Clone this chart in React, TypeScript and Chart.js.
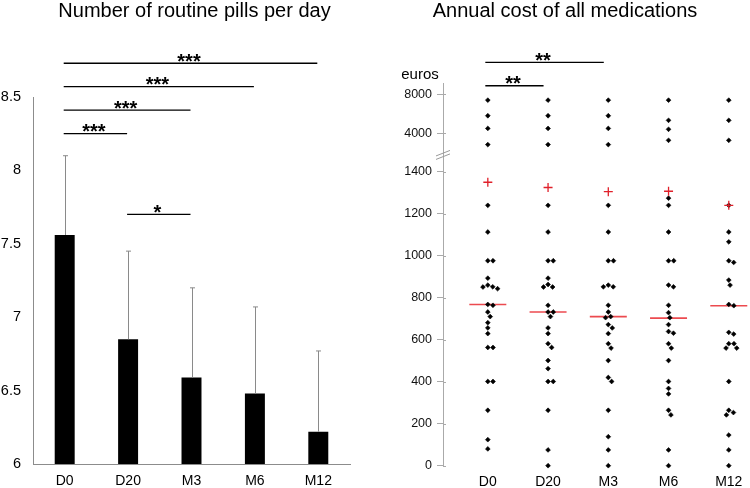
import React, { useEffect, useRef } from "react";
import { Chart, registerables, LinearScale } from "chart.js";

Chart.register(...registerables);

// ---------------- data ----------------
const CATEGORIES = ["D0", "D20", "M3", "M6", "M12"];

// left panel: number of routine pills per day
const PILLS_TITLE = "Number of routine pills per day";
const PILLS_MEAN = [7.56, 6.85, 6.59, 6.48, 6.22];
const PILLS_SD = [0.54, 0.6, 0.61, 0.59, 0.55];
const PILLS_TICKS = [6, 6.5, 7, 7.5, 8, 8.5];
const PILL_BRACKET_FROM = [0, 0, 0, 0, 1];
const PILL_BRACKET_TO = [1, 2, 3, 4, 2];
const PILL_BRACKET_Y = [8.25, 8.41, 8.57, 8.73, 7.7];
const PILL_BRACKET_STARS = ["***", "***", "***", "***", "*"];

// right panel: annual cost of all medications (euros)
const COST_TITLE = "Annual cost of all medications";
const COST_UNIT = "euros";
const COST_D0 = [7400, 5800, 4500, 2840, 1240, 1113, 976, 976, 893, 860, 852, 851, 843, 768, 764, 732, 710, 681, 656, 629, 563, 563, 401, 401, 264, 124, 80];
const COST_D20 = [7400, 5800, 4500, 2840, 1240, 1113, 976, 976, 893, 863, 851, 851, 764, 732, 732, 710, 656, 629, 581, 563, 501, 462, 401, 401, 264, 75, 0];
const COST_M3 = [7400, 5800, 4500, 2840, 1240, 1113, 976, 976, 860, 852, 852, 764, 732, 710, 705, 672, 656, 629, 581, 560, 501, 420, 401, 264, 138, 75, 0];
const COST_M6 = [7400, 5330, 4410, 3280, 1274, 1240, 1113, 976, 976, 860, 852, 764, 729, 705, 672, 639, 631, 581, 560, 501, 401, 368, 342, 264, 242, 75, 0];
const COST_M12 = [7400, 5330, 3280, 1240, 1113, 1066, 976, 968, 884, 860, 768, 762, 635, 627, 581, 581, 560, 560, 401, 264, 253, 242, 146, 75, 0];
const COST_MEAN = [1350, 1325, 1305, 1307, 1240];
const COST_MEDIAN = [768, 732, 710, 703, 762];
const COST_TICKS = [0, 200, 400, 600, 800, 1000, 1200, 1400, 4000, 8000];
const COST_BRACKET_FROM = [0, 0];
const COST_BRACKET_TO = [1, 2];
const COST_BRACKET_Y = [8880, 11280];
const COST_BRACKET_STARS = ["**", "**"];

// ---------------- broken axis scale ----------------
const LOWER_LIMIT = 1500; // values up to this use the lower segment
const UPPER_AT_4000 = 1583; // position of 4000 in lower-segment units
const UPPER_RATIO = 0.04643; // compression of the upper segment
const BREAK_VALUE = 1480;

function tf(v: number) {
  return v <= LOWER_LIMIT ? v : UPPER_AT_4000 + (v - 4000) * UPPER_RATIO;
}
function itf(t: number) {
  return t <= BREAK_VALUE ? t : 4000 + (t - UPPER_AT_4000) / UPPER_RATIO;
}

class BrokenScale extends LinearScale {
  static id = "broken";
  static defaults = { ticks: { callback: (v: any) => String(v) } };
  buildTicks() {
    return COST_TICKS.map((v) => ({ value: v }));
  }
  getPixelForValue(value: number) {
    const t0 = tf(this.min);
    const t1 = tf(this.max);
    return this.getPixelForDecimal((tf(value) - t0) / (t1 - t0));
  }
  getValueForPixel(pixel: number) {
    const t0 = tf(this.min);
    const t1 = tf(this.max);
    return itf(t0 + this.getDecimalForPixel(pixel) * (t1 - t0));
  }
}
Chart.register(BrokenScale as any);

const FONT = '"Liberation Sans", Arial, sans-serif';
Chart.defaults.font.family = FONT;

// ---------------- plugins ----------------
function drawBracket(ctx: CanvasRenderingContext2D, x1: number, x2: number, y: number, stars: string) {
  ctx.save();
  ctx.strokeStyle = "#000";
  ctx.lineWidth = 1.3;
  ctx.beginPath();
  ctx.moveTo(x1, y);
  ctx.lineTo(x2, y);
  ctx.stroke();
  ctx.fillStyle = "#000";
  ctx.font = `bold 20px ${FONT}`;
  ctx.textAlign = "center";
  ctx.textBaseline = "alphabetic";
  ctx.fillText(stars, (x1 + x2) / 2 - 1.5, y + 4.5);
  ctx.restore();
}

function drawTitle(ctx: CanvasRenderingContext2D, text: string, x: number) {
  ctx.save();
  ctx.fillStyle = "#000";
  ctx.font = `20px ${FONT}`;
  ctx.textAlign = "center";
  ctx.textBaseline = "alphabetic";
  ctx.fillText(text, x, 16.5);
  ctx.restore();
}

const pillsPlugin = {
  id: "pillsExtras",
  afterDatasetsDraw(chart: any) {
    const ctx = chart.ctx;
    const y = chart.scales.y;
    const meta = chart.getDatasetMeta(0);
    ctx.save();
    ctx.strokeStyle = "#8a8a8a";
    ctx.lineWidth = 1;
    meta.data.forEach((bar: any, i: number) => {
      const x = Math.round(bar.x) + 0.5;
      const top = y.getPixelForValue(PILLS_MEAN[i] + PILLS_SD[i]);
      ctx.beginPath();
      ctx.moveTo(x, bar.y);
      ctx.lineTo(x, top);
      ctx.moveTo(x - 2.5, top);
      ctx.lineTo(x + 2.5, top);
      ctx.stroke();
    });
    ctx.restore();
  },
  afterDraw(chart: any) {
    const ctx = chart.ctx;
    const x = chart.scales.x;
    const y = chart.scales.y;
    PILL_BRACKET_FROM.forEach((from, i) => {
      drawBracket(
        ctx,
        x.getPixelForValue(from) - 1,
        x.getPixelForValue(PILL_BRACKET_TO[i]) - 1,
        y.getPixelForValue(PILL_BRACKET_Y[i]),
        PILL_BRACKET_STARS[i]
      );
    });
    drawTitle(ctx, PILLS_TITLE, 194.5);
  },
};

const swarmPlugin = {
  id: "swarm",
  afterDatasetsUpdate(chart: any) {
    const dsIndex = 1;
    const meta = chart.getDatasetMeta(dsIndex);
    const raw = chart.data.datasets[dsIndex].data;
    const groups = new Map<number, any[]>();
    meta.data.forEach((el: any, i: number) => {
      const key = raw[i].x;
      if (!groups.has(key)) groups.set(key, []);
      groups.get(key)!.push(el);
    });
    const D = 5.2;
    groups.forEach((els) => {
      const sorted = els.slice().sort((a, b) => a.y - b.y);
      const baseX = sorted[0].x;
      const placed: { dx: number; y: number }[] = [];
      for (const el of sorted) {
        const cands = [0];
        for (const p of placed) {
          const dy = el.y - p.y;
          if (Math.abs(dy) < D) {
            const dx = Math.sqrt(D * D - dy * dy);
            cands.push(p.dx + dx, p.dx - dx);
          }
        }
        cands.sort((a, b) => Math.abs(a) - Math.abs(b));
        let chosen = cands[cands.length - 1];
        for (const c of cands) {
          if (placed.every((p) => Math.hypot(p.dx - c, p.y - el.y) >= D - 0.01)) {
            chosen = c;
            break;
          }
        }
        placed.push({ dx: chosen, y: el.y });
        el.x = baseX + chosen;
      }
    });
  },
};

const costPlugin = {
  id: "costExtras",
  afterDraw(chart: any) {
    const ctx = chart.ctx;
    const x = chart.scales.x;
    const y = chart.scales.y;
    // axis break mark
    const yb = y.getPixelForValue(BREAK_VALUE);
    const xa = chart.chartArea.left;
    ctx.save();
    ctx.strokeStyle = "#9a9a9a";
    ctx.lineWidth = 1;
    ctx.beginPath();
    ctx.moveTo(xa - 7, yb + 1);
    ctx.lineTo(xa + 7, yb - 4.5);
    ctx.moveTo(xa - 7, yb + 4.5);
    ctx.lineTo(xa + 7, yb - 1);
    ctx.stroke();
    // tick marks cross the axis a little
    ctx.strokeStyle = "#aaaaaa";
    ctx.beginPath();
    COST_TICKS.forEach((v) => {
      const py = Math.round(y.getPixelForValue(v)) + 0.5;
      ctx.moveTo(xa, py);
      ctx.lineTo(xa + 3, py);
    });
    ctx.stroke();
    // unit label
    ctx.fillStyle = "#000";
    ctx.font = `15px ${FONT}`;
    ctx.textAlign = "center";
    ctx.fillText(COST_UNIT, 50, 79.3);
    ctx.restore();
    COST_BRACKET_FROM.forEach((from, i) => {
      drawBracket(
        ctx,
        x.getPixelForValue(from) - 2.5,
        x.getPixelForValue(COST_BRACKET_TO[i]) - 4.5,
        y.getPixelForValue(COST_BRACKET_Y[i]),
        COST_BRACKET_STARS[i]
      );
    });
    drawTitle(ctx, COST_TITLE, 195);
  },
};

// ---------------- components ----------------
function PillsChart() {
  const ref = useRef<HTMLCanvasElement>(null);
  useEffect(() => {
    const chart = new Chart(ref.current!, {
      type: "bar",
      data: {
        labels: CATEGORIES,
        datasets: [
          {
            data: PILLS_MEAN,
            backgroundColor: "#000",
            borderWidth: 0,
            barPercentage: 0.315,
            categoryPercentage: 1,
          },
        ],
      },
      options: {
        responsive: false,
        animation: false,
        events: [],
        layout: { autoPadding: false, padding: { top: 97, right: 20, left: 0, bottom: 0 } },
        plugins: { legend: { display: false }, tooltip: { enabled: false }, title: { display: false } },
        scales: {
          x: {
            grid: { display: false, drawTicks: false, tickLength: 0 },
            border: { display: true, color: "#8c8c8c", width: 1 },
            ticks: { color: "#000", font: { size: 14 }, padding: 9 },
            afterFit: (s: any) => {
              s.height = 24;
            },
          },
          y: {
            min: 6,
            max: 8.5,
            afterBuildTicks: (s: any) => {
              s.ticks = PILLS_TICKS.map((v) => ({ value: v }));
            },
            grid: { display: false, drawTicks: false, tickLength: 0 },
            border: { display: true, color: "#8c8c8c", width: 1 },
            ticks: { color: "#000", font: { size: 14.5 }, padding: 12, callback: (v: any) => String(v) },
            afterFit: (s: any) => {
              s.width = 33;
            },
          },
        },
      } as any,
      plugins: [pillsPlugin],
    });
    return () => chart.destroy();
  }, []);
  return <canvas ref={ref} width={370} height={488} style={{ display: "block" }} />;
}

function CostChart() {
  const ref = useRef<HTMLCanvasElement>(null);
  useEffect(() => {
    const series = [COST_D0, COST_D20, COST_M3, COST_M6, COST_M12];
    const dots = series.flatMap((vals, i) => vals.map((v) => ({ x: i, y: v })));
    const chart = new Chart(ref.current!, {
      type: "scatter",
      data: {
        datasets: [
          {
            data: COST_MEAN.map((v, i) => ({ x: i, y: v })),
            pointStyle: "cross",
            pointRadius: 4.5,
            borderColor: "#e0202a",
            backgroundColor: "#e0202a",
            pointBorderWidth: 1.3,
          },
          {
            data: dots,
            pointStyle: "rectRot",
            pointRadius: 2.4,
            borderColor: "#000",
            backgroundColor: "#000",
            pointBorderWidth: 0.6,
          },
          {
            data: COST_MEDIAN.map((v, i) => ({ x: i, y: v })),
            pointStyle: "line",
            pointRadius: 18.5,
            borderColor: "#ec4a4f",
            backgroundColor: "#ec4a4f",
            pointBorderWidth: 1.6,
          },
        ],
      },
      options: {
        responsive: false,
        animation: false,
        events: [],
        clip: false,
        layout: { autoPadding: false, padding: { top: 83, right: 0, left: 0, bottom: 0 } },
        plugins: { legend: { display: false }, tooltip: { enabled: false }, title: { display: false } },
        scales: {
          x: {
            type: "linear",
            min: -0.744,
            max: 4.33,
            afterBuildTicks: (s: any) => {
              s.ticks = CATEGORIES.map((_, i) => ({ value: i }));
            },
            grid: { display: false, drawTicks: false, tickLength: 0 },
            border: { display: false },
            ticks: { color: "#000", font: { size: 14 }, padding: 7.6, autoSkip: false, callback: (v: any) => CATEGORIES[v] },
            afterFit: (s: any) => {
              s.height = 22.3;
            },
          },
          y: {
            type: "broken",
            min: 0,
            max: 9160,
            grid: { display: true, drawOnChartArea: false, drawTicks: true, tickLength: 6, color: "#aaaaaa" },
            border: { display: true, color: "#aaaaaa", width: 1 },
            ticks: { color: "#111", font: { size: 12.5 }, padding: 5, autoSkip: false, callback: (v: any) => String(v) },
            afterFit: (s: any) => {
              s.width = 73;
            },
          },
        },
      } as any,
      plugins: [swarmPlugin, costPlugin],
    });
    return () => chart.destroy();
  }, []);
  return <canvas ref={ref} width={380} height={488} style={{ display: "block" }} />;
}

export default function App() {
  return (
    <div style={{ position: "absolute", left: 0, top: 0, width: 750, height: 488, background: "#fff" }}>
      <div style={{ position: "absolute", left: 0, top: 0 }}>
        <PillsChart />
      </div>
      <div style={{ position: "absolute", left: 370, top: 0 }}>
        <CostChart />
      </div>
    </div>
  );
}
